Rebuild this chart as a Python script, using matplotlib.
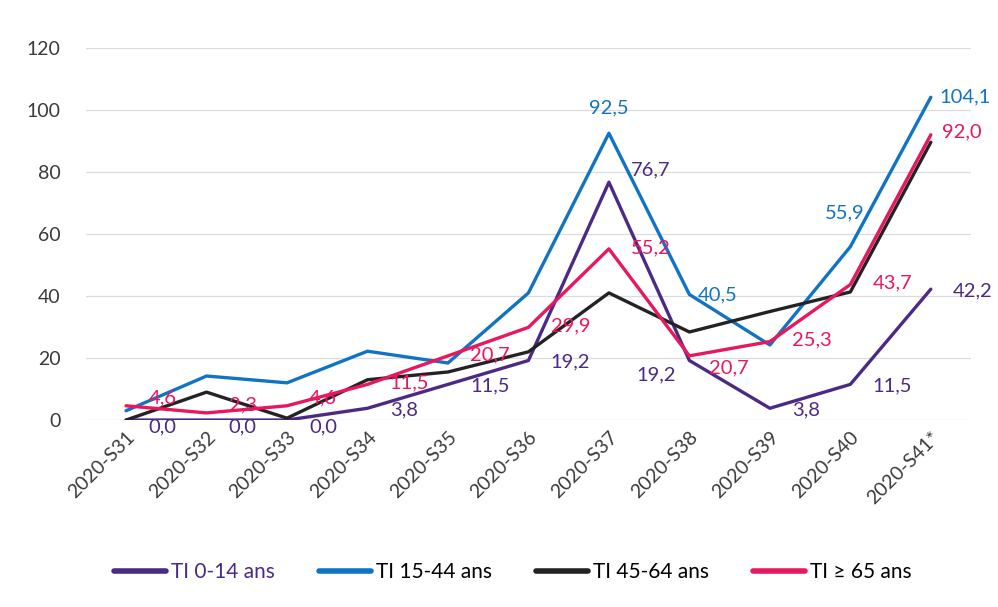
import matplotlib.pyplot as plt

plt.rcParams['font.family'] = ['Lato', 'DejaVu Sans']

weeks = ['2020-S31', '2020-S32', '2020-S33', '2020-S34', '2020-S35', '2020-S36',
         '2020-S37', '2020-S38', '2020-S39', '2020-S40', '2020-S41*']
ti_0_14 = [0.0, 0.0, 0.0, 3.8, 11.5, 19.2, 76.7, 19.2, 3.8, 11.5, 42.2]
ti_15_44 = [3.0, 14.2, 12.0, 22.2, 18.4, 41.0, 92.5, 40.5, 24.2, 55.9, 104.1]
ti_45_64 = [0.0, 9.0, 0.6, 13.0, 15.5, 22.0, 41.0, 28.4, 35.0, 41.3, 89.6]
ti_65 = [4.6, 2.3, 4.6, 11.5, 20.7, 29.9, 55.2, 20.7, 25.3, 43.7, 92.0]

labels_0_14 = [0, 1, 2, 3, 4, 5, 6, 7, 8, 9, 10]
labels_15_44 = [6, 7, 9, 10]
labels_65 = [0, 1, 2, 3, 4, 5, 6, 7, 8, 9, 10]

PURPLE = '#4B2A85'
BLUE = '#1173C4'
BLACK = '#232323'
PINK = '#E9175C'

fig = plt.figure(figsize=(9.98, 6.07), dpi=100)
ax = fig.add_axes([0.086, 0.308, 0.887, 0.613])

x = list(range(len(weeks)))
ax.plot(x, ti_0_14, color=PURPLE, lw=2.4, label='TI 0-14 ans', solid_capstyle='round')
ax.plot(x, ti_15_44, color=BLUE, lw=2.4, label='TI 15-44 ans', solid_capstyle='round')
ax.plot(x, ti_45_64, color=BLACK, lw=2.4, label='TI 45-64 ans', solid_capstyle='round')
ax.plot(x, ti_65, color=PINK, lw=2.4, label='TI ≥ 65 ans', solid_capstyle='round')

def fmt(v):
    return f'{v:.1f}'.replace('.', ',')

FS = 14.5

# data labels, mostly to the right of the point
for i in labels_0_14:
    dx, dy = 16, -1
    if i < 3:
        dy = -5
    if i == 6:
        dy = 9
    if i == 7:
        dx, dy = -38, -10
    ax.annotate(fmt(ti_0_14[i]), (i, ti_0_14[i]), xytext=(dx, dy), textcoords='offset points',
                color=PURPLE, fontsize=FS, ha='left', va='center')

for i in labels_15_44:
    if i == 6:
        ax.annotate(fmt(ti_15_44[i]), (i, ti_15_44[i]), xytext=(0, 12), textcoords='offset points',
                    color=BLUE, fontsize=FS, ha='center', va='bottom')
    elif i == 9:
        ax.annotate(fmt(ti_15_44[i]), (i, ti_15_44[i]), xytext=(-4, 18), textcoords='offset points',
                    color=BLUE, fontsize=FS, ha='center', va='bottom')
    else:
        ax.annotate(fmt(ti_15_44[i]), (i, ti_15_44[i]), xytext=(6, 0), textcoords='offset points',
                    color=BLUE, fontsize=FS, ha='left', va='center')

for i in labels_65:
    dx, dy = 16, 1
    if i < 3:
        dy = 6
    if i == 7:
        dx, dy = 14, -9
    if i == 10:
        dx, dy = 8, 2
    ax.annotate(fmt(ti_65[i]), (i, ti_65[i]), xytext=(dx, dy), textcoords='offset points',
                color=PINK, fontsize=FS, ha='left', va='center')

ax.set_xlim(-0.5, len(weeks) - 0.5)
ax.set_ylim(0, 120)
ax.set_yticks(range(0, 121, 20))
ax.set_xticks(x)
ax.set_xticklabels(weeks, rotation=45, ha='right', rotation_mode='anchor')
ax.tick_params(axis='both', length=0, labelsize=14, colors='#3a3a3a')
ax.tick_params(axis='y', pad=18)
ax.tick_params(axis='x', pad=6)
ax.grid(axis='y', color='#dcdcdc', lw=0.9)
ax.set_axisbelow(True)
for s in ax.spines.values():
    s.set_visible(False)

leg = fig.legend(loc='center', bbox_to_anchor=(0.514, 0.057), ncol=4, frameon=False,
                 fontsize=15, handlelength=2.5, handletextpad=0.25, columnspacing=2.1)
for line in leg.get_lines():
    line.set_linewidth(4)
leg.get_texts()[0].set_color(PURPLE)

fig.savefig('out.png', dpi=100)
